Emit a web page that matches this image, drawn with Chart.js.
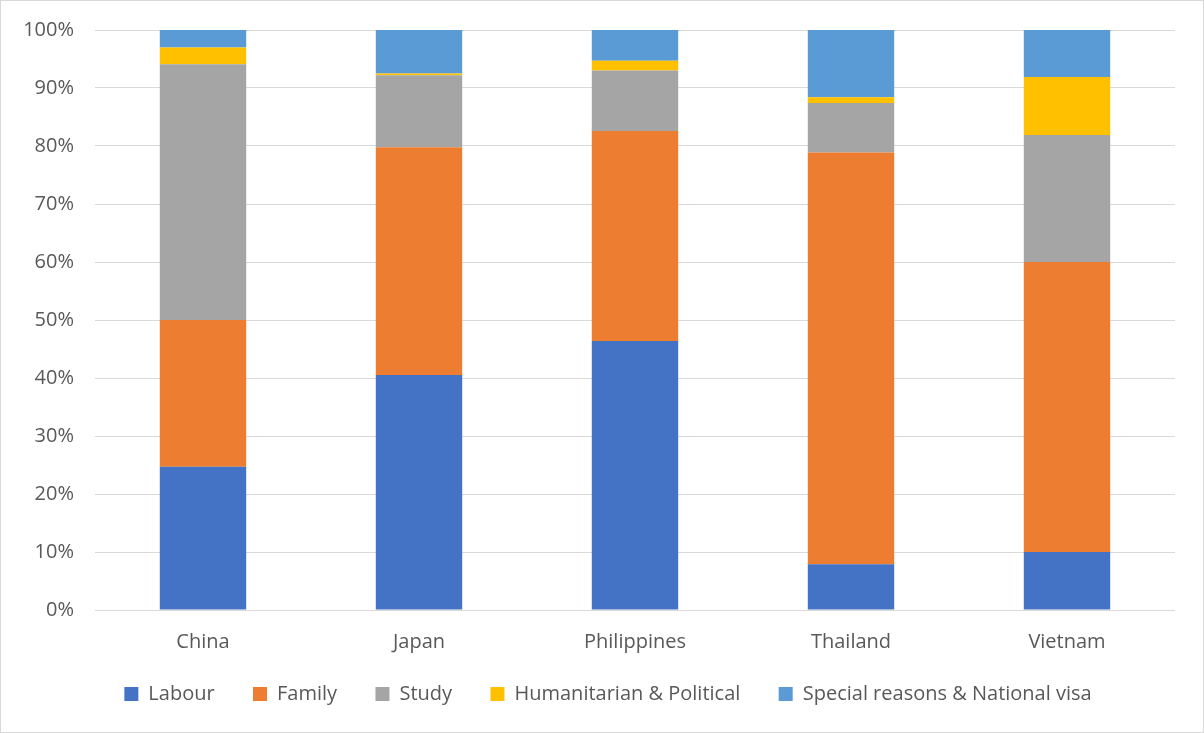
<!DOCTYPE html>
<html>
<head>
<meta charset="utf-8">
<script src="https://cdn.jsdelivr.net/npm/chart.js@4.4.1/dist/chart.umd.min.js"></script>
<style>
  html, body { margin: 0; padding: 0; background: #fff; }
  #wrap { width: 1204px; height: 733px; box-sizing: border-box; border: 1px solid #d9d9d9; }
  canvas { display: block; }
</style>
</head>
<body>
<div id="wrap"><canvas id="c" width="1202" height="731"></canvas></div>
<script>
// Share of residence permits by purpose, per country of origin (%)
const countries = ['China', 'Japan', 'Philippines', 'Thailand', 'Vietnam'];
const labour       = [24.7, 40.5, 46.4,  7.9, 10.0];
const family       = [25.3, 39.3, 36.2, 71.0, 50.0];
const study        = [44.1, 12.4, 10.4,  8.5, 21.9];
const humanitarian = [ 2.9,  0.3,  1.7,  1.0, 10.0];
const special      = [ 3.0,  7.5,  5.3, 11.6,  8.1];
const yTicks = [0, 10, 20, 30, 40, 50, 60, 70, 80, 90, 100];

const FONT = '"Open Sans", sans-serif';
const FS = 20;
const ds = (label, data, color) => ({
  label, data, backgroundColor: color, borderWidth: 0,
  barPercentage: 0.8, categoryPercentage: 0.5
});

// nudge the centred legend row to the right
const legendShift = {
  id: 'legendShift',
  afterLayout(chart) {
    if (chart.legend) { chart.legend.left += 20; chart.legend.right += 20; }
  }
};

new Chart(document.getElementById('c'), {
  type: 'bar',
  data: {
    labels: countries,
    datasets: [
      ds('Labour', labour, '#4472c4'),
      ds('Family', family, '#ed7d31'),
      ds('Study', study, '#a5a5a5'),
      ds('Humanitarian & Political', humanitarian, '#ffc000'),
      ds('Special reasons & National visa', special, '#5b9bd5')
    ]
  },
  plugins: [legendShift],
  options: {
    responsive: false,
    animation: false,
    layout: { padding: { left: 0, right: 28, top: 29, bottom: 18 } },
    plugins: {
      tooltip: { enabled: false },
      legend: {
        position: 'bottom',
        labels: {
          boxWidth: 14, boxHeight: 14, padding: 28,
          color: '#595959', font: { family: FONT, size: FS },
          // extra trailing space widens the gap between legend entries
          generateLabels: (chart) => {
            const items = Chart.defaults.plugins.legend.labels.generateLabels(chart);
            items.forEach((it, i) => { if (i < items.length - 1) it.text += '  '; });
            return items;
          }
        }
      }
    },
    scales: {
      x: {
        stacked: true,
        grid: { display: false },
        border: { display: false },
        ticks: { color: '#595959', padding: 12, font: { family: FONT, size: FS } },
        afterFit: (s) => { s.height = 46; }
      },
      y: {
        stacked: true,
        min: 0, max: 100,
        afterBuildTicks: (s) => { s.ticks = yTicks.map(v => ({ value: v })); },
        grid: { color: '#d9d9d9', lineWidth: 1, drawTicks: false },
        border: { display: false },
        ticks: {
          color: '#595959', padding: 21,
          font: { family: FONT, size: FS },
          callback: (v) => v + '%'
        },
        afterFit: (s) => { s.width = 94; s.paddingTop = 0; s.paddingBottom = 0; }
      }
    }
  }
});
</script>
</body>
</html>
